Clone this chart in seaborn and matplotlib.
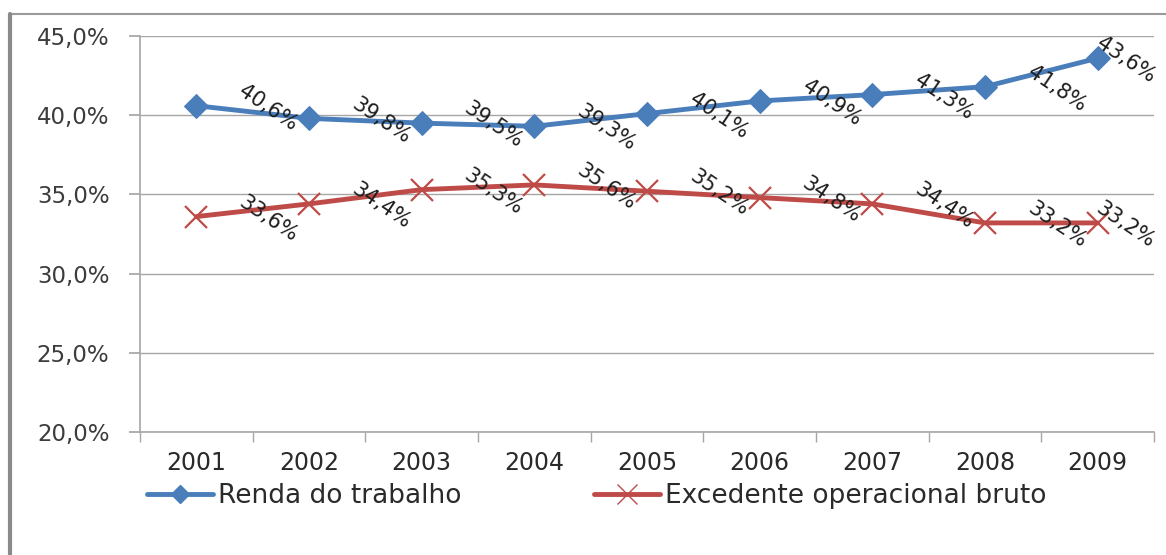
import matplotlib
matplotlib.use("Agg")
import matplotlib.pyplot as plt
import seaborn as sns
import pandas as pd
from matplotlib.lines import Line2D
from matplotlib.ticker import FuncFormatter

# Data
years = ["2001", "2002", "2003", "2004", "2005", "2006", "2007", "2008", "2009"]
renda_trabalho = [40.6, 39.8, 39.5, 39.3, 40.1, 40.9, 41.3, 41.8, 43.6]
excedente_bruto = [33.6, 34.4, 35.3, 35.6, 35.2, 34.8, 34.4, 33.2, 33.2]
series_names = ["Renda do trabalho", "Excedente operacional bruto"]

BLUE = "#4A7EBB"
RED = "#BE4B48"
GRID = "#A6A6A6"
TEXT = "#3C3C3C"

sns.set_theme(style="white")
plt.rcParams["font.family"] = ["DejaVu Sans"]

fig = plt.figure(figsize=(11.66, 5.55), dpi=100)
ax = fig.add_axes([140 / 1166, 1 - 432 / 555, 1014 / 1166, 396 / 555])

df = pd.DataFrame({
    "pos": list(range(len(years))) * 2,
    "valor": renda_trabalho + excedente_bruto,
    "serie": [series_names[0]] * len(years) + [series_names[1]] * len(years),
})

sns.lineplot(data=df[df.serie == series_names[0]], x="pos", y="valor", ax=ax,
             color=BLUE, linewidth=3.5, marker="D", markersize=12,
             markeredgecolor=BLUE, legend=False)
sns.lineplot(data=df[df.serie == series_names[1]], x="pos", y="valor", ax=ax,
             color=RED, linewidth=3.5, marker="x", markersize=16,
             markeredgewidth=1.6, markeredgecolor=RED, legend=False)

# Data labels, rotated like in the original
for vals in (renda_trabalho, excedente_bruto):
    for i, v in enumerate(vals):
        dx = 28 if i == len(vals) - 1 else 72
        ax.annotate(f"{v:.1f}%".replace(".", ","), (i, v),
                    xytext=(dx, -2), textcoords="offset pixels",
                    ha="center", va="center", rotation=-34,
                    fontsize=15, color="#1E1E1E")

ax.set_xlim(-0.5, len(years) - 0.5)
ax.set_ylim(20, 45)
ax.set_yticks([20, 25, 30, 35, 40, 45])
ax.yaxis.set_major_formatter(FuncFormatter(lambda v, _: f"{v:.1f}%".replace(".", ",")))
ax.set_xticks(range(len(years)))
ax.set_xticklabels(years, fontsize=17, color="#2A2A2A")
ax.set_xticks([i - 0.5 for i in range(len(years) + 1)], minor=True)
ax.set_xlabel("")
ax.set_ylabel("")

ax.grid(axis="y", color=GRID, linewidth=1)
ax.grid(axis="x", visible=False)
for side in ("top", "right"):
    ax.spines[side].set_visible(False)
for side in ("left", "bottom"):
    ax.spines[side].set_color(GRID)
    ax.spines[side].set_linewidth(1.2)

ax.tick_params(axis="y", which="major", left=True, length=8, color=GRID,
               labelsize=16.5, labelcolor=TEXT, pad=14)
ax.tick_params(axis="x", which="major", bottom=False, length=0, pad=14)
ax.tick_params(axis="x", which="minor", bottom=True, length=7, color=GRID)

# Legend below the axes
handles = [
    Line2D([], [], color=BLUE, linewidth=3.5, marker="D", markersize=9),
    Line2D([], [], color=RED, linewidth=3.5, marker="x", markersize=14,
           markeredgewidth=1.0),
]
fig.legend(handles, series_names, loc="center left",
           bbox_to_anchor=(147 / 1166, 1 - 496 / 555), ncol=2, frameon=False,
           prop={"size": 19}, handlelength=2.5, borderpad=0, borderaxespad=0,
           handletextpad=0.2, columnspacing=5.0, labelcolor="#2A2A2A")

# Outer frame lines (top and left) of the pasted chart
fig.add_artist(Line2D([10 / 1166, 1], [1 - 14 / 555] * 2, color="#9A9A9A", linewidth=1.5))
fig.add_artist(Line2D([10 / 1166] * 2, [0, 1 - 14 / 555], color="#8A8A8A", linewidth=3))

fig.savefig("out.png", dpi=100, facecolor="white")
